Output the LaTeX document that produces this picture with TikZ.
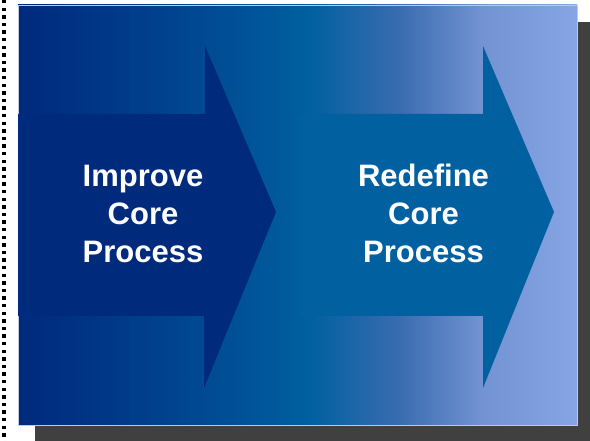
\documentclass[tikz,border=0pt]{standalone}
\usepackage{fontspec}
\setmainfont{Liberation Sans}
\definecolor{shadowgray}{HTML}{404040}
\definecolor{bgA}{HTML}{00297D}
\definecolor{bgB}{HTML}{003F8C}
\definecolor{bgC}{HTML}{0060A0}
\definecolor{bgD}{HTML}{3A6CB0}
\definecolor{bgE}{HTML}{7292D2}
\definecolor{bgF}{HTML}{87A5E5}
\definecolor{arrowone}{HTML}{002A7C}
\definecolor{arrowtwo}{HTML}{0060A0}
\definecolor{rimcol}{HTML}{C4C8D8}
\tikzset{
  bgpiece/.style={draw=none},
  arrowshape/.style={draw=none},
  labeltext/.style={text=white, font=\bfseries\fontsize{31}{38}\selectfont, align=center, inner sep=0pt}
}
\begin{document}
\begin{tikzpicture}[x=1pt,y=1pt]
\useasboundingbox (0,0) rectangle (590,441);
% dotted margin line
\draw[line width=3.3pt, dash pattern=on 3.5pt off 4.1pt] (4,441) -- (4,0);
% shadow
\fill[shadowgray] (35,0) rectangle (590,419);
% background gradient pieces
\shade[bgpiece, left color=bgA, right color=bgB] (18,16) rectangle (150.5,436);
\shade[bgpiece, left color=bgB, right color=bgC] (150,16) rectangle (310.5,436);
\shade[bgpiece, left color=bgC, right color=bgD] (310,16) rectangle (400.5,436);
\shade[bgpiece, left color=bgD, right color=bgE] (400,16) rectangle (480.5,436);
\shade[bgpiece, left color=bgE, right color=bgF] (480,16) rectangle (577,436);
\draw[rimcol, line width=0.7pt] (18,16) rectangle (577,436);
% arrows
\fill[arrowone] (18,327) -- (205,327) -- (205,395) -- (276,229) -- (204,53) -- (204,125) -- (18,125) -- cycle;
\fill[arrowtwo] (300,327) -- (483,327) -- (483,395) -- (554,229) -- (483,53) -- (483,125) -- (300,125) -- cycle;
% labels
\node[labeltext] (improve) at (143,227.5) {Improve\\Core\\Process};
\node[labeltext] (redefine) at (423.5,227.5) {Redefine\\Core\\Process};
\end{tikzpicture}
\end{document}
